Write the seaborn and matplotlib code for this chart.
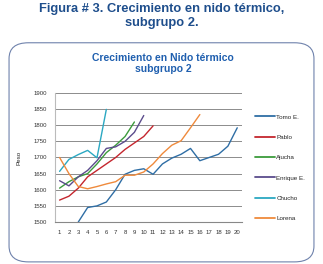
import numpy as np
import pandas as pd
import matplotlib
matplotlib.use("Agg")
import matplotlib.pyplot as plt
import seaborn as sns
from matplotlib.patches import FancyBboxPatch

dias = list(range(1, 21))
tomo_e = [np.nan, np.nan, 1500, 1545, 1550, 1562, 1600, 1648, 1660, 1665,
          1648, 1680, 1698, 1710, 1728, 1690, 1700, 1710, 1735, 1792]
pablo = [1568, 1580, 1605, 1640, 1660, 1680, 1700, 1725, 1745, 1765, 1798]
ajucha = [1605, 1625, 1640, 1650, 1680, 1715, 1738, 1765, 1810]
enrique = [1628, 1612, 1640, 1660, 1690, 1728, 1733, 1750, 1778, 1830]
chucho = [1657, 1694, 1709, 1722, 1699, 1849]
lorena = [1700, 1650, 1610, 1603, 1610, 1618, 1625, 1645, 1645, 1655,
          1680, 1712, 1738, 1752, 1792, 1833]

series = {"Tomo E.": tomo_e, "Pablo": pablo, "Ajucha": ajucha,
          "Enrique E.": enrique, "Chucho": chucho, "Lorena": lorena}
colores = ["#2F6EA5", "#C4262E", "#3C9B3C", "#5B4C8C", "#2BA8C2", "#EF8A3C"]

rows = []
for nombre, vals in series.items():
    for d, v in zip(dias, vals):
        rows.append({"dia": d, "peso": v, "grupo": nombre})
df = pd.DataFrame(rows).dropna()

sns.set_style("white")
plt.rcParams["font.family"] = ["Liberation Sans", "DejaVu Sans"]

fig = plt.figure(figsize=(3.23, 2.64), dpi=100)
fig.patch.set_facecolor("white")

# rounded frame around the chart
frame = FancyBboxPatch((0.028, 0.008), 0.944, 0.83,
                       boxstyle="round,pad=0,rounding_size=0.06",
                       transform=fig.transFigure, fill=False,
                       edgecolor="#6F82AC", linewidth=0.8)
fig.patches.append(frame)

fig.text(0.5, 0.99, "Figura # 3. Crecimiento en nido térmico,\nsubgrupo 2.",
         ha="center", va="top", fontsize=9.3, fontweight="bold",
         color="#1E4E8C", linespacing=1.3)
fig.text(0.505, 0.80, "Crecimiento en Nido térmico\nsubgrupo 2",
         ha="center", va="top", fontsize=7.5, fontweight="bold",
         color="#1F5FAF", linespacing=1.15)

ax = fig.add_axes([0.170, 0.159, 0.579, 0.489])
sns.lineplot(data=df, x="dia", y="peso", hue="grupo", palette=colores,
             hue_order=list(series.keys()), linewidth=1.0, ax=ax,
             estimator=None, sort=True)

ax.set_xlim(0.5, 20.5)
ax.set_ylim(1500, 1900)
ax.set_yticks(range(1500, 1901, 50))
ax.set_xticks(dias)
ax.tick_params(axis="both", labelsize=4.3, length=0, pad=6, colors="#333333")
ax.grid(axis="y", color="#8C8C8C", linewidth=0.7)
ax.set_axisbelow(True)
for s in ["top", "right"]:
    ax.spines[s].set_visible(False)
ax.spines["left"].set_color("#BBBBBB")
ax.spines["bottom"].set_color("#888888")
ax.set_xlabel("")
ax.set_ylabel("Peso", fontsize=4.5, labelpad=8)

leg = ax.legend(loc="center left", bbox_to_anchor=(1.04, 0.42), frameon=False,
                fontsize=4.5, handlelength=3.2, labelspacing=2.4,
                handletextpad=0.2)
for line in leg.get_lines():
    line.set_linewidth(1.3)

fig.savefig("out.png", dpi=100)
